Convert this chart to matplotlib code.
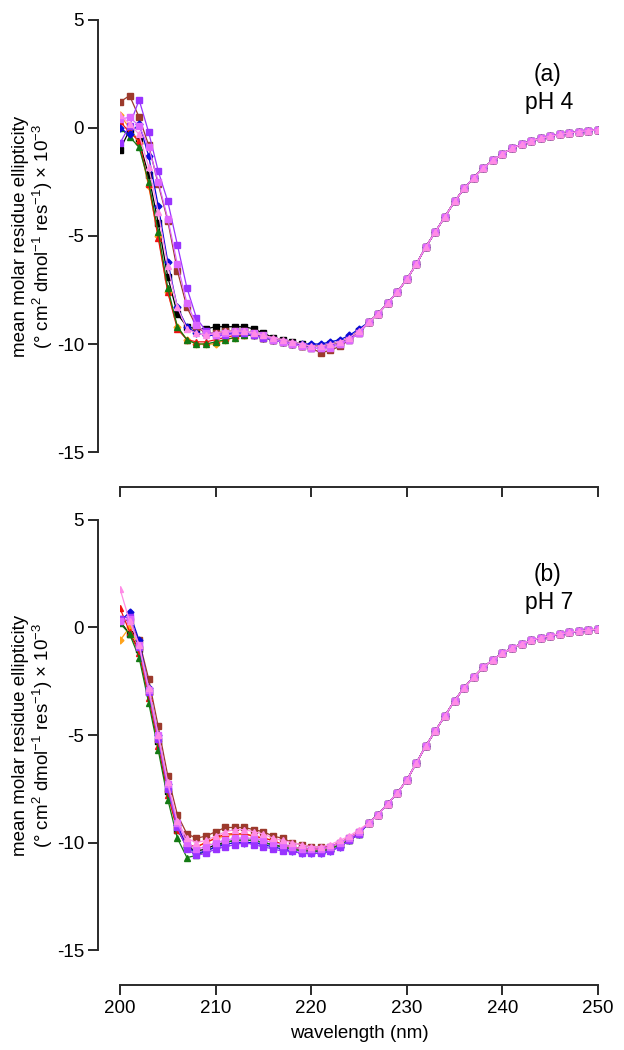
import numpy as np
import matplotlib
matplotlib.use('Agg')
import matplotlib.pyplot as plt

plt.rcParams['font.family'] = ['Liberation Sans', 'DejaVu Sans']
plt.rcParams['mathtext.fontset'] = 'custom'
plt.rcParams['mathtext.rm'] = 'Liberation Sans'
plt.rcParams['mathtext.it'] = 'Liberation Sans:italic'
plt.rcParams['axes.unicode_minus'] = False

# wavelength grid (nm)
wl = np.arange(200, 251)

# panel (a) pH 4, 200-225 nm per sample
a_black = [-1.0, -0.1, -0.6, -2.2, -4.4, -6.9, -8.6, -9.2, -9.3, -9.3, -9.2, -9.2, -9.2, -9.2, -9.3, -9.5, -9.7, -9.8, -9.9, -10.0, -10.1, -10.1, -10.0, -9.9, -9.7, -9.4]
a_brown = [1.2, 1.5, 0.5, -0.8, -2.6, -4.3, -6.6, -8.3, -9.2, -9.5, -9.5, -9.4, -9.4, -9.4, -9.5, -9.7, -9.8, -9.9, -10.0, -10.1, -10.2, -10.4, -10.3, -10.1, -9.8, -9.5]
a_orange = [0.6, 0.0, -0.7, -2.7, -5.0, -7.6, -9.2, -9.8, -10.0, -10.0, -10.0, -9.8, -9.7, -9.6, -9.6, -9.7, -9.8, -9.9, -10.0, -10.1, -10.1, -10.1, -10.0, -9.9, -9.7, -9.4]
a_red = [0.3, -0.2, -0.6, -2.6, -5.1, -7.6, -9.3, -9.8, -9.9, -9.9, -9.8, -9.7, -9.6, -9.6, -9.6, -9.7, -9.8, -9.9, -10.0, -10.1, -10.1, -10.1, -10.0, -9.9, -9.7, -9.4]
a_green = [0.0, -0.4, -0.9, -2.5, -4.8, -7.4, -9.2, -9.8, -10.0, -10.0, -9.9, -9.8, -9.7, -9.6, -9.6, -9.7, -9.8, -9.9, -10.0, -10.1, -10.1, -10.1, -10.0, -9.9, -9.7, -9.4]
a_blue = [0.0, -0.3, 0.2, -1.3, -3.6, -6.2, -8.3, -9.2, -9.5, -9.6, -9.6, -9.5, -9.5, -9.5, -9.6, -9.7, -9.8, -9.9, -10.0, -10.0, -10.0, -10.0, -9.9, -9.8, -9.6, -9.3]
a_purple = [-0.7, 0.1, 1.3, -0.2, -2.0, -3.4, -5.4, -7.4, -8.8, -9.4, -9.6, -9.6, -9.5, -9.5, -9.6, -9.7, -9.8, -9.9, -10.0, -10.1, -10.2, -10.2, -10.1, -10.0, -9.8, -9.5]
a_violet = [0.4, 0.5, 0.1, -0.9, -2.5, -4.2, -6.3, -8.1, -9.1, -9.5, -9.6, -9.5, -9.4, -9.4, -9.5, -9.6, -9.8, -9.9, -10.0, -10.1, -10.2, -10.2, -10.2, -10.0, -9.8, -9.5]
a_pink = [0.6, 0.2, -0.3, -1.8, -3.9, -6.4, -8.3, -9.3, -9.5, -9.6, -9.5, -9.4, -9.4, -9.4, -9.5, -9.6, -9.7, -9.8, -9.9, -10.0, -10.1, -10.1, -10.0, -9.9, -9.7, -9.4]
# 226-250 nm, all samples overlap
a_tail = [-9.0, -8.6, -8.1, -7.6, -7.0, -6.3, -5.5, -4.8, -4.1, -3.4, -2.8, -2.3, -1.85, -1.5, -1.2, -0.95, -0.75, -0.6, -0.48, -0.38, -0.3, -0.23, -0.17, -0.12, -0.08]

# panel (b) pH 7
b_black = [0.3, -0.3, -1.0, -3.0, -5.3, -7.6, -9.4, -10.2, -10.4, -10.3, -10.1, -10.0, -9.9, -9.9, -9.9, -10.0, -10.1, -10.2, -10.3, -10.3, -10.4, -10.4, -10.3, -10.1, -9.9, -9.6]
b_brown = [0.4, 0.3, -0.6, -2.4, -4.6, -6.9, -8.7, -9.6, -9.8, -9.7, -9.5, -9.3, -9.3, -9.3, -9.4, -9.5, -9.7, -9.8, -10.0, -10.1, -10.2, -10.2, -10.2, -10.0, -9.8, -9.5]
b_orange = [-0.6, 0.0, -1.0, -3.1, -5.3, -7.6, -9.3, -10.1, -10.2, -10.0, -9.8, -9.7, -9.6, -9.6, -9.7, -9.8, -9.9, -10.1, -10.2, -10.3, -10.3, -10.3, -10.2, -10.0, -9.8, -9.5]
b_red = [0.9, -0.2, -1.2, -3.3, -5.5, -7.8, -9.4, -10.1, -10.2, -10.0, -9.8, -9.6, -9.6, -9.6, -9.7, -9.8, -9.9, -10.1, -10.2, -10.3, -10.3, -10.3, -10.2, -10.0, -9.8, -9.5]
b_green = [0.2, -0.3, -1.4, -3.5, -5.7, -8.0, -9.8, -10.7, -10.6, -10.4, -10.2, -10.0, -9.9, -9.9, -9.9, -10.0, -10.1, -10.2, -10.3, -10.4, -10.4, -10.4, -10.3, -10.1, -9.9, -9.6]
b_blue = [0.3, 0.7, -0.6, -2.8, -5.0, -7.3, -9.2, -10.2, -10.5, -10.4, -10.2, -10.1, -10.0, -10.0, -10.0, -10.1, -10.2, -10.3, -10.4, -10.5, -10.5, -10.5, -10.4, -10.2, -9.9, -9.6]
b_purple = [0.4, 0.5, -0.9, -3.0, -5.2, -7.5, -9.3, -10.3, -10.6, -10.5, -10.3, -10.2, -10.1, -10.0, -10.1, -10.2, -10.3, -10.4, -10.4, -10.5, -10.5, -10.5, -10.4, -10.2, -9.9, -9.6]
b_violet = [0.3, 0.4, -0.8, -2.9, -5.0, -7.3, -9.1, -10.0, -10.3, -10.2, -10.0, -9.9, -9.8, -9.8, -9.8, -9.9, -10.0, -10.1, -10.2, -10.3, -10.3, -10.3, -10.2, -10.0, -9.8, -9.5]
b_pink = [1.8, 0.3, -0.8, -2.8, -5.0, -7.2, -9.0, -9.8, -10.0, -9.9, -9.7, -9.5, -9.4, -9.4, -9.5, -9.6, -9.8, -9.9, -10.0, -10.1, -10.2, -10.2, -10.1, -9.9, -9.7, -9.4]
b_tail = [-9.1, -8.7, -8.2, -7.7, -7.1, -6.3, -5.5, -4.8, -4.1, -3.4, -2.8, -2.3, -1.85, -1.5, -1.2, -0.95, -0.75, -0.6, -0.48, -0.38, -0.3, -0.23, -0.17, -0.12, -0.08]

colors = ['#000000', '#9c3a2c', '#ffa31a', '#ee1111', '#137a13', '#0a0ad8', '#9933ff', '#dd66ff', '#ff8ce6']
markers = ['s', 's', 'D', '^', '^', 'D', 's', 's', '^']

panels = [
    ([a_black, a_brown, a_orange, a_red, a_green, a_blue, a_purple, a_violet, a_pink], a_tail, '(a)', 'pH 4'),
    ([b_black, b_brown, b_orange, b_red, b_green, b_blue, b_purple, b_violet, b_pink], b_tail, '(b)', 'pH 7'),
]

fig = plt.figure(figsize=(6.24, 10.5), dpi=100)
rects = [[0.1923, 0.5695, 0.766, 0.4115], [0.1923, 0.0952, 0.766, 0.4096]]

for i, (heads, tail, tag, ph) in enumerate(panels):
    ax = fig.add_axes(rects[i])
    for h, c, m in zip(heads, colors, markers):
        y = list(h) + list(tail)
        ms = 4.2 if m != 'D' else 3.5
        ax.plot(wl, y, color=c, marker=m, ms=ms, lw=0.9, mec=c, mfc=c)
    ax.set_xlim(200, 250)
    ax.set_ylim(-15, 5)
    ax.set_yticks([5, 0, -5, -10, -15])
    ax.set_xticks([200, 210, 220, 230, 240, 250])
    for s in ['top', 'right']:
        ax.spines[s].set_visible(False)
    ax.spines['left'].set_position(('outward', 16))
    ax.spines['bottom'].set_position(('outward', 25))
    for s in ['left', 'bottom']:
        ax.spines[s].set_linewidth(1.4)
        ax.spines[s].set_color('#2a2a2a')
    ax.tick_params(direction='out', length=7, width=1.4, color='#2a2a2a', labelsize=13.5, pad=3)
    ax.tick_params(axis='x', length=7, pad=4)
    if i == 0:
        ax.set_xticklabels([])
    else:
        ax.set_xlabel('wavelength (nm)', fontsize=13.5, labelpad=6)
    ax.text(0.894, 0.873, tag, transform=ax.transAxes, ha='center', va='center', fontsize=16.5)
    ax.text(0.898, 0.808, ph, transform=ax.transAxes, ha='center', va='center', fontsize=16.5)
    yc = rects[i][1] + rects[i][3] / 2
    fig.text(21 / 624, yc, 'mean molar residue ellipticity', rotation=90, ha='center', va='center', fontsize=13.5)
    fig.text(43 / 624, yc, '(° cm$^{2}$ dmol$^{-1}$ res$^{-1}$) × 10$^{-3}$', rotation=90, ha='center', va='center', fontsize=13.5)

fig.savefig('out.png', dpi=100)
